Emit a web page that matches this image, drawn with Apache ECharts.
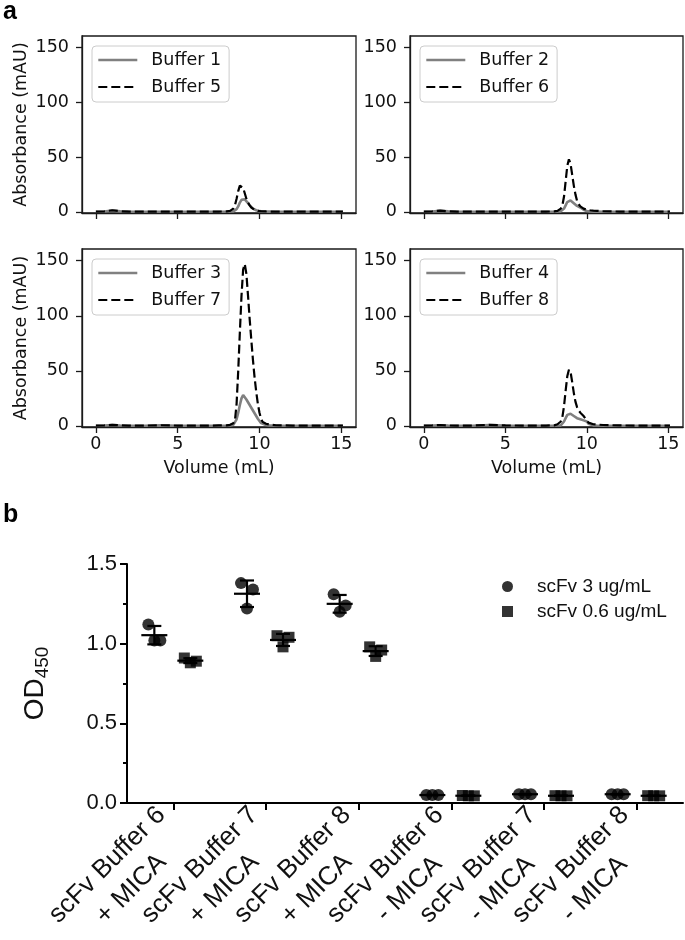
<!DOCTYPE html>
<html><head><meta charset="utf-8">
<script src="https://cdn.jsdelivr.net/npm/echarts@6/dist/echarts.min.js"></script>
<style>html,body{margin:0;padding:0;background:#fff}#c{width:685px;height:940px}</style>
</head><body><div id="c"></div>
<script>
// ---------- Panel a: size-exclusion traces ----------
const volume = [0,0.5,1,1.5,2,3,4,5,6,7,7.5,8,8.2,8.4,8.5,8.6,8.7,8.8,8.9,9,9.1,9.2,9.3,9.4,9.5,9.6,9.7,9.8,9.9,10,10.1,10.2,10.4,10.6,11,12,13,14,15.1];
const buffer1 = [0.2,0.4,1.2,0.5,0.3,0.2,0.2,0.2,0.2,0.2,0.2,0.2,0.3,0.5,1,2.5,5,8.5,11,12,11.5,10,8,6,4.5,3,2,1.5,1,0.7,0.5,0.4,0.3,0.3,0.2,0.2,0.2,0.2,0.2];
const buffer5 = [0.2,0.5,1.5,0.6,0.3,0.2,0.2,0.2,0.2,0.2,0.3,0.5,1,3,6,12,19,24,25,22,17,12,8.5,6,4,3,2,1.5,1,0.8,0.6,0.5,0.4,0.3,0.3,0.2,0.2,0.2,0.2];
const buffer2 = [0.2,0.4,0.9,0.5,0.3,0.2,0.2,0.2,0.2,0.2,0.2,0.2,0.3,0.5,1,3,6,9,10.5,10.5,9.5,8,6.5,5.5,4.8,4,3,2,1.2,0.8,0.5,0.4,0.3,0.3,0.2,0.2,0.2,0.2,0.2];
const buffer6 = [0.2,0.5,1.2,0.6,0.3,0.2,0.2,0.2,0.2,0.2,0.3,0.5,1,3,6,14,28,42,48,44,34,24,16,10,7,5,4,3,2.5,2,1.8,1.5,1.2,1,0.6,0.3,0.2,0.2,0.2];
const buffer3 = [0.2,0.3,0.8,0.4,0.2,0.2,0.5,0.2,0.2,0.2,0.2,0.3,0.5,1,2,6,12,19,25,28,26.5,24,21.5,19,16.5,14,11.5,9,6.5,4.5,2.5,1.5,0.8,0.5,0.3,0.2,0.2,0.2,0.2];
const buffer7 = [0.2,0.4,1,0.5,0.3,0.3,0.6,0.3,0.3,0.3,0.4,0.5,1,2.5,5,20,50,85,118,142,147,138,118,97,78,60,44,31,20,12,6,3.5,2,1.2,0.6,0.3,0.3,0.3,0.3];
const buffer4 = [0.2,0.3,0.6,0.3,0.2,0.2,0.8,0.3,0.2,0.2,0.2,0.2,0.3,0.5,1.5,4,7,10,11.5,11,10,9,8,7,6.5,6,5.5,5,4.5,4,2,1,0.5,0.3,0.2,0.2,0.2,0.2,0.2];
const buffer8 = [0.2,0.4,0.8,0.4,0.3,0.3,1,0.4,0.3,0.3,0.3,0.5,1.5,4,8,18,32,45,51,49,40,30,22,17,14,12,10.5,9,7,5,3,2,1.5,1.2,0.8,0.4,0.3,0.3,0.3];
const volumeTicks = [0,5,10,15];
const absTicks = [0,50,100,150];

// ---------- Panel b: ELISA ----------
const categories = ['scFv Buffer 6\n+ MICA','scFv Buffer 7\n+ MICA','scFv Buffer 8\n+ MICA','scFv Buffer 6\n- MICA','scFv Buffer 7\n- MICA','scFv Buffer 8\n- MICA'];
const scfv3 = [[1.12,1.02,1.02],[1.38,1.34,1.22],[1.31,1.24,1.20],[0.05,0.05,0.05],[0.055,0.055,0.055],[0.055,0.055,0.055]];
const scfv06 = [[0.91,0.89,0.88],[1.05,1.04,0.98],[0.98,0.96,0.92],[0.047,0.045,0.045],[0.046,0.045,0.045],[0.046,0.045,0.045]];

// ---------- layout / style ----------
const panels = [
  {solid:'Buffer 1', dashed:'Buffer 5', s:buffer1, d:buffer5, left:82, top:36, width:274, height:177, xl:false, yt:true},
  {solid:'Buffer 2', dashed:'Buffer 6', s:buffer2, d:buffer6, left:410, top:36, width:273, height:177, xl:false, yt:false},
  {solid:'Buffer 3', dashed:'Buffer 7', s:buffer3, d:buffer7, left:82, top:249, width:274, height:178, xl:true, yt:true},
  {solid:'Buffer 4', dashed:'Buffer 8', s:buffer4, d:buffer8, left:410, top:249, width:273, height:178, xl:true, yt:false}
];
const MPL = 'DejaVu Sans';
const ARIAL = 'Liberation Sans, Arial';
const axCol = '#1a1a1a';

const grids = [], xAxes = [], yAxes = [], series = [], legends = [];
panels.forEach((p, i) => {
  grids.push({left:p.left, top:p.top, width:p.width, height:p.height, show:true, borderColor:axCol, borderWidth:1.3,
    backgroundColor:'transparent', outerBoundsMode:'none', containLabel:false});
  xAxes.push({gridIndex:i, type:'value', min:-0.85, max:15.9,
    axisLine:{show:true, onZero:false, lineStyle:{color:axCol, width:1.3}},
    axisTick:{show:true, length:6, customValues:volumeTicks, lineStyle:{color:axCol, width:1.3}},
    axisLabel:{show:p.xl, customValues:volumeTicks, fontSize:17.5, fontFamily:MPL, color:'#111', margin:8},
    splitLine:{show:false},
    name:p.xl ? 'Volume (mL)' : '', nameLocation:'middle', nameGap:32,
    nameTextStyle:{fontSize:17.5, fontFamily:MPL, color:'#111'}});
  yAxes.push({gridIndex:i, type:'value', min:-1, max:160.6,
    axisLine:{show:true, onZero:false, lineStyle:{color:axCol, width:1.3}},
    axisTick:{show:true, length:6, customValues:absTicks, lineStyle:{color:axCol, width:1.3}},
    axisLabel:{show:true, customValues:absTicks, fontSize:17.5, fontFamily:MPL, color:'#111', margin:13},
    splitLine:{show:false},
    name:p.yt ? 'Absorbance (mAU)' : '', nameLocation:'middle', nameGap:52,
    nameTextStyle:{fontSize:17.5, fontFamily:MPL, color:'#111'}});
  series.push({name:p.solid, type:'line', xAxisIndex:i, yAxisIndex:i, symbol:'none', smooth:false,
    data:volume.map((v,k)=>[v,p.s[k]]), lineStyle:{color:'#808080', width:2.6}, itemStyle:{color:'#808080'}, z:2});
  series.push({name:p.dashed, type:'line', xAxisIndex:i, yAxisIndex:i, symbol:'none', smooth:false,
    data:volume.map((v,k)=>[v,p.d[k]]), lineStyle:{color:'#000', width:2.2, type:[9,4]}, itemStyle:{color:'#000'}, z:3});
  legends.push({data:[p.solid, p.dashed], orient:'vertical', left:p.left+10, top:p.top+10,
    itemWidth:39, itemHeight:14, itemGap:7, padding:[4,8,5,5], borderColor:'#cccccc', borderWidth:1, borderRadius:4,
    backgroundColor:'#fff', selectedMode:false, itemStyle:{opacity:0}, lineStyle:{width:'inherit'},
    textStyle:{fontSize:17.5, fontFamily:MPL, color:'#111', padding:[0,0,0,9], lineHeight:20}});
});

// panel b
const bi = 4;
grids.push({left:127, top:564, width:556, height:239, show:false, outerBoundsMode:'none', containLabel:false});
xAxes.push({gridIndex:bi, type:'category', data:categories, boundaryGap:true,
  axisLine:{show:true, lineStyle:{color:'#000', width:2}},
  axisTick:{show:true, alignWithLabel:true, length:7, lineStyle:{color:'#000', width:2}},
  axisLabel:{interval:0, rotate:45, margin:20, color:'#111', fontFamily:ARIAL, fontSize:26,
    formatter: v => v.split('\n').map(s => '{c|' + s + '}').join('\n'),
    rich:{c:{align:'center', fontSize:26, fontFamily:ARIAL, color:'#111', lineHeight:34}}},
  splitLine:{show:false}});
yAxes.push({gridIndex:bi, type:'value', min:0, max:1.5, interval:0.5,
  axisLine:{show:true, lineStyle:{color:'#000', width:2}},
  axisTick:{show:true, length:7, lineStyle:{color:'#000', width:2}},
  minorTick:{show:true, splitNumber:2, length:4, lineStyle:{color:'#000', width:2}},
  axisLabel:{fontSize:22, fontFamily:ARIAL, color:'#111', margin:10, formatter: v => v.toFixed(1)},
  splitLine:{show:false}, minorSplitLine:{show:false},
  name:'{a|OD}{b|450}', nameLocation:'middle', nameGap:76,
  nameTextStyle:{rich:{a:{fontSize:28, fontFamily:ARIAL, color:'#111', lineHeight:32},
                       b:{fontSize:19, fontFamily:ARIAL, color:'#111', lineHeight:22, padding:[16,0,0,0]}}}});

const jitter = [-6, 6, 0];
const offHi = -19, offLo = 17;
function points(groups, off) {
  const out = [];
  groups.forEach((reps, g) => reps.forEach((v, r) => out.push({value:[g, v], symbolOffset:[off + jitter[r], 0]})));
  return out;
}
function stats(groups) {
  return groups.map((reps, g) => {
    const m = reps.reduce((a,b)=>a+b,0)/reps.length;
    const sd = Math.sqrt(reps.reduce((a,b)=>a+(b-m)*(b-m),0)/(reps.length-1));
    return [g, m, sd];
  });
}
function errRender(off) {
  return function(params, api) {
    const g = api.value(0), m = api.value(1), s = api.value(2);
    const c = api.coord([g, m]), t = api.coord([g, m + s]), b = api.coord([g, Math.max(0, m - s)]);
    const x = c[0] + off;
    const st = {stroke:'#000', lineWidth:2.2};
    return {type:'group', children:[
      {type:'line', shape:{x1:x-13, y1:c[1], x2:x+13, y2:c[1]}, style:st},
      {type:'line', shape:{x1:x, y1:t[1], x2:x, y2:b[1]}, style:st},
      {type:'line', shape:{x1:x-7, y1:t[1], x2:x+7, y2:t[1]}, style:st},
      {type:'line', shape:{x1:x-7, y1:b[1], x2:x+7, y2:b[1]}, style:st}
    ]};
  };
}
series.push({name:'scFv 3 ug/mL', type:'scatter', xAxisIndex:bi, yAxisIndex:bi, symbol:'circle', symbolSize:12,
  itemStyle:{color:'#000'}, data:points(scfv3, offHi), z:3});
series.push({name:'scFv 0.6 ug/mL', type:'scatter', xAxisIndex:bi, yAxisIndex:bi, symbol:'rect', symbolSize:11,
  itemStyle:{color:'#000'}, data:points(scfv06, offLo), z:3});
series.push({name:'err3', type:'custom', xAxisIndex:bi, yAxisIndex:bi, data:stats(scfv3), renderItem:errRender(offHi), z:4});
series.push({name:'err06', type:'custom', xAxisIndex:bi, yAxisIndex:bi, data:stats(scfv06), renderItem:errRender(offLo), z:4});
legends.push({data:['scFv 3 ug/mL','scFv 0.6 ug/mL'], orient:'vertical', left:502, top:577,
  itemWidth:11, itemHeight:11, itemGap:6, padding:0, selectedMode:false,
  textStyle:{fontSize:19, fontFamily:ARIAL, color:'#111', padding:[0,0,0,19], lineHeight:19}});

const chart = echarts.init(document.getElementById('c'), null, {renderer:'canvas'});
chart.setOption({
  animation:false,
  backgroundColor:'#fff',
  grid:grids, xAxis:xAxes, yAxis:yAxes, legend:legends, series:series,
  graphic:[
    {type:'text', left:3, top:0, style:{text:'a', font:'bold 25px Liberation Sans, Arial', fill:'#000'}},
    {type:'text', left:3, top:503, style:{text:'b', font:'bold 25px Liberation Sans, Arial', fill:'#000'}}
  ]
});
</script>
</body></html>
